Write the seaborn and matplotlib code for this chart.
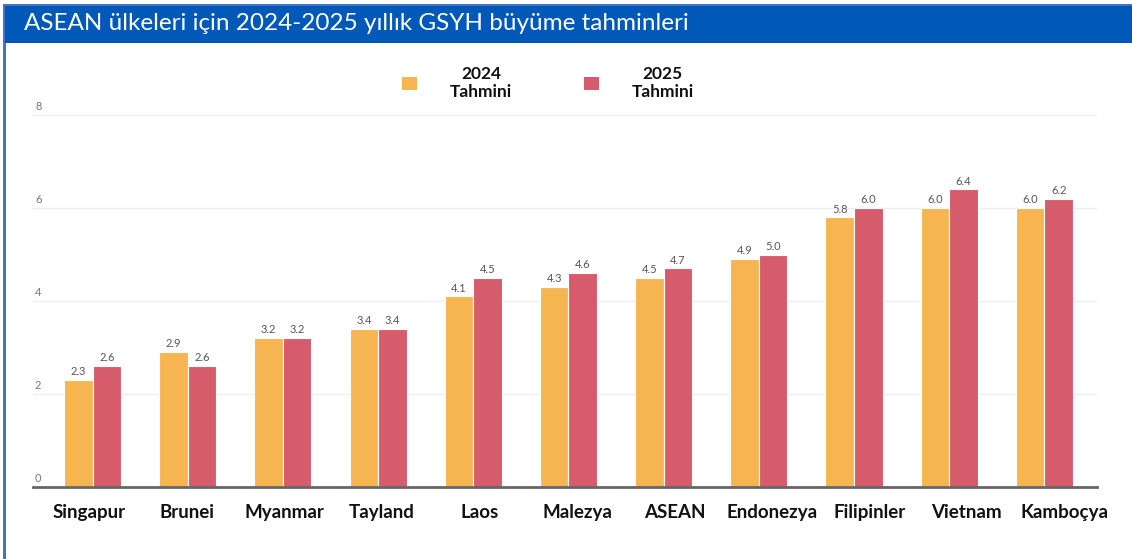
import matplotlib
matplotlib.use('Agg')
import matplotlib.pyplot as plt
import matplotlib.transforms as mtransforms
import pandas as pd
import seaborn as sns
from matplotlib.patches import Rectangle, Patch

# Veriler
ulkeler = ['Singapur', 'Brunei', 'Myanmar', 'Tayland', 'Laos', 'Malezya',
           'ASEAN', 'Endonezya', 'Filipinler', 'Vietnam', 'Kamboçya']
tahmin_2024 = [2.3, 2.9, 3.2, 3.4, 4.1, 4.3, 4.5, 4.9, 5.8, 6.0, 6.0]
tahmin_2025 = [2.6, 2.6, 3.2, 3.4, 4.5, 4.6, 4.7, 5.0, 6.0, 6.4, 6.2]
seriler = ['2024\nTahmini', '2025\nTahmini']
y_ticks = [0, 2, 4, 6, 8]
baslik = 'ASEAN ülkeleri için 2024-2025 yıllık GSYH büyüme tahminleri'

renkler = ['#F7B552', '#D65C6C']

df = pd.DataFrame({
    'ulke': ulkeler * 2,
    'deger': tahmin_2024 + tahmin_2025,
    'seri': [seriler[0]] * len(ulkeler) + [seriler[1]] * len(ulkeler),
})

sns.set_theme(style='white')
plt.rcParams['font.family'] = ['Lato', 'DejaVu Sans']

W, H = 1132, 559
fig = plt.figure(figsize=(W / 100, H / 100), dpi=100)

# Cerceve (sol ve ust) ve baslik bandi
fig.patches.append(Rectangle((3 / W, 0), 2.5 / W, 1 - 4 / H,
                             transform=fig.transFigure, facecolor='#4472C4',
                             edgecolor='none'))
fig.patches.append(Rectangle((3 / W, 1 - 6 / H), 1, 2.5 / H,
                             transform=fig.transFigure, facecolor='#4472C4',
                             edgecolor='none'))
fig.patches.append(Rectangle((5 / W, 1 - 43 / H), 1, 37 / H,
                             transform=fig.transFigure, facecolor='#0058B8',
                             edgecolor='none'))
fig.text(24 / W, 1 - 24 / H, baslik, color='white', fontsize=17.5,
         va='center', ha='left')

# Grafik alani
ax = fig.add_axes([33 / W, 1 - 487 / H, (1097 - 33) / W, (487 - 115) / H])
sns.barplot(data=df, x='ulke', y='deger', hue='seri', palette=renkler,
            saturation=1, width=0.6, gap=0, edgecolor='white', linewidth=0.8,
            legend=False, ax=ax)

ax.set_ylim(0, 8)
ax.set_xlim(-0.626, 10.553)
ax.set_xlabel('')
ax.set_ylabel('')
for s in ['top', 'right', 'left']:
    ax.spines[s].set_visible(False)
ax.spines['bottom'].set_color('#666666')
ax.spines['bottom'].set_linewidth(2)

# Izgara
ax.set_yticks(y_ticks)
ax.set_yticklabels([])
ax.tick_params(axis='y', length=0)
for v in y_ticks[1:]:
    ax.axhline(v, color='#EEEEEE', linewidth=1, zorder=0)
for v in y_ticks:
    ax.text(2 / 1064, v + 0.07, str(v), transform=ax.get_yaxis_transform(),
            ha='left', va='bottom', fontsize=8, color='#777777')

# X ekseni
ax.set_xticks(range(len(ulkeler)))
ax.set_xticklabels(ulkeler, fontsize=13.5, fontweight='bold', color='#111111')
ax.tick_params(axis='x', which='major', length=0, pad=12)
ax.set_xticks([i - 0.5 for i in range(len(ulkeler) + 1)], minor=True)
ax.tick_params(axis='x', which='minor', length=5, width=1, color='#888888',
               direction='out')
# orijinaldeki etiketler biraz daha genis aralikla dizilmis
for i, lbl in enumerate(ax.get_xticklabels()):
    dx = (-3 + i * 2.3) / 100
    lbl.set_transform(lbl.get_transform() +
                      mtransforms.ScaledTranslation(dx, 0, fig.dpi_scale_trans))

# Deger etiketleri
for c in ax.containers:
    ax.bar_label(c, fmt='%.1f', fontsize=8, color='#555555', padding=2)

# Gosterge
handles = [Patch(facecolor=r, edgecolor='none') for r in renkler]
leg = fig.legend(handles, seriler, loc='center',
                 bbox_to_anchor=(548 / W, 1 - 83 / H), ncol=2, frameon=False,
                 prop={'weight': 'bold', 'size': 12.5},
                 handlelength=0.86, handleheight=0.86, handletextpad=1.9,
                 columnspacing=4.1, labelspacing=0.2)
for t in leg.get_texts():
    t.set_multialignment('center')
    t.set_color('#111111')

fig.savefig('out.png', dpi=100)
